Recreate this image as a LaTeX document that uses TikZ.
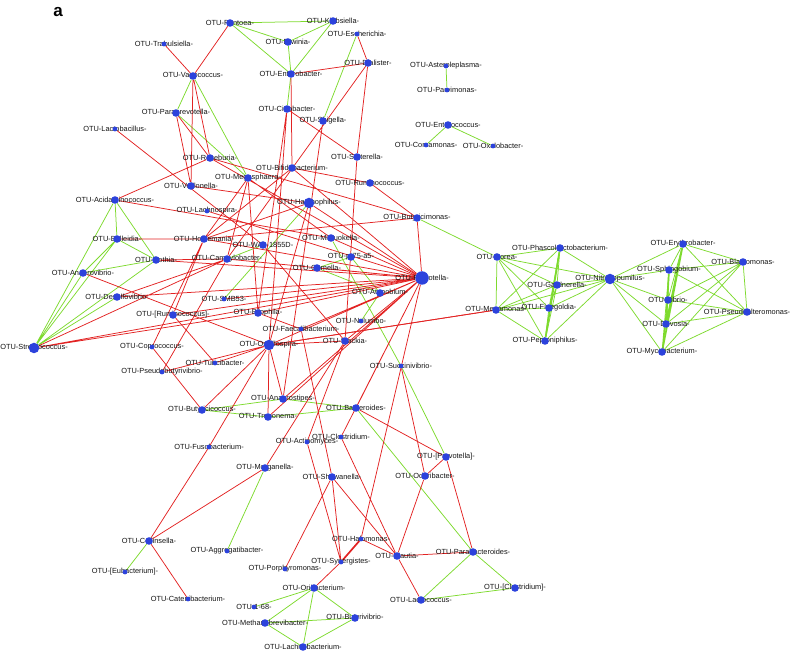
\documentclass[tikz,border=0pt]{standalone}
\usepackage{fontspec}
\setmainfont{Liberation Sans}
\definecolor{negred}{RGB}{226,34,34}
\definecolor{posgreen}{RGB}{126,218,46}
\definecolor{otublue}{RGB}{44,66,220}
\pgfdeclarelayer{edges}
\pgfsetlayers{edges,main}
\newcommand{\otu}[5][mid]{%
 \node[lbl] (#2-t) at (#3,#4) {OTU-#5-};
 \node[dot,#1] (#2) at (#3,#4) {};}

\begin{document}
\begin{tikzpicture}[x=1pt,y=-1pt,
 dot/.style={circle,fill=otublue,inner sep=0pt},
 sml/.style={minimum size=4.8pt},
 mid/.style={minimum size=7.6pt},
 big/.style={minimum size=10.5pt},
 huge/.style={minimum size=13.5pt},
 lbl/.style={font=\fontsize{7.4}{8}\selectfont,text=black!92,inner sep=0pt},
 negedge/.style={draw=negred,line width=0.75pt},
 posedge/.style={draw=posgreen,line width=0.75pt},
 heavy/.style={line width=1.7pt}]
\useasboundingbox (0,0) rectangle (793,652);
\node[font=\bfseries\fontsize{17}{17}\selectfont] (tag) at (58,12) {a};
% left and centre
\otu{pant}{230}{23}{Pantoea}
\otu[sml]{trab}{164}{44}{Trabulsiella}
\otu{vago}{193}{76}{Vagococcus}
\otu{kleb}{333}{21}{Klebsiella}
\otu{erw}{288}{42}{Erwinia}
\otu[sml]{esch}{357}{34}{Escherichia}
\otu{entb}{291}{74}{Enterobacter}
\otu{dial}{368}{63}{Dialister}
\otu[sml]{aste}{446}{66}{Asteroleplasma}
\otu[sml]{parv}{447}{90}{Parvimonas}
\otu{citr}{287}{109}{Citrobacter}
\otu{shig}{323}{121}{Shigella}
\otu{entc}{448}{125}{Enterococcus}
\otu[sml]{coma}{426}{145}{Comamonas}
\otu[sml]{oxal}{493}{146}{Oxalobacter}
\otu{papr}{176}{113}{Paraprevotella}
\otu[sml]{lact}{115}{129}{Lactobacillus}
\otu{sutt}{357}{157}{Sutterella}
\otu{rose}{210}{158}{Roseburia}
\otu{bifi}{292}{168}{Bifidobacterium}
\otu{mega}{248}{178}{Megasphaera}
\otu{rumi}{370}{183}{Ruminococcus}
\otu{veil}{191}{186}{Veillonella}
\otu{acid}{115}{200}{Acidaminococcus}
\otu[big]{haem}{309}{203}{Haemophilus}
\otu[sml]{lach}{207}{211}{Lachnospira}
\otu{buty}{417}{218}{Butyricimonas}
\otu{mits}{331}{238}{Mitsuokella}
\otu{bull}{117}{239}{Bulleidia}
\otu{hold}{204}{239}{Holdemania}
\otu{wal}{263}{245}{WAL-1855D}
\otu{p75}{351}{257}{p-75-a5}
\otu{roth}{156}{260}{Rothia}
\otu{camp}{227}{259}{Campylobacter}
\otu{geme}{317}{268}{Gemella}
\otu{anvi}{83}{273}{Anaerovibrio}
\otu[huge]{prev}{422}{278}{Prevotella}
\otu{atop}{380}{293}{Atopobium}
\otu{desu}{117}{297}{Desulfovibrio}
\otu[sml]{smb}{224}{299}{SMB53}
\otu{bilo}{258}{313}{Bilophila}
\otu{rrum}{173}{315}{[Ruminococcus]}
\otu[sml]{nelu}{361}{321}{Nelumbo}
\otu[sml]{faec}{301}{329}{Faecalibacterium}
\otu{slac}{345}{341}{Slackia}
\otu[big]{osci}{269}{345}{Oscillospira}
\otu[big]{strep}{34}{348}{Streptococcus}
\otu[sml]{copr}{152}{347}{Coprococcus}
\otu[sml]{turi}{215}{363}{Turicibacter}
\otu[sml]{pseb}{162}{372}{Pseudobutyrivibrio}
\otu[sml]{succ}{401}{366}{Succinivibrio}
\otu{anst}{283}{399}{Anaerostipes}
\otu{bact}{356}{408}{Bacteroides}
\otu{btcc}{202}{410}{Butyricicoccus}
\otu{trep}{268}{417}{Treponema}
\otu[sml]{clos}{341}{437}{Clostridium}
\otu[sml]{actn}{307}{442}{Actinomyces}
\otu[sml]{fuso}{209}{447}{Fusobacterium}
\otu{cprv}{446}{457}{[Prevotella]}
\otu{morg}{265}{468}{Morganella}
\otu{odor}{425}{476}{Odoribacter}
\otu{shew}{332}{477}{Shewanella}
\otu[sml]{halo}{361}{539}{Halomonas}
\otu{coll}{149}{541}{Collinsella}
\otu[sml]{aggr}{227}{551}{Aggregatibacter}
\otu{para}{473}{552}{Parabacteroides}
\otu{blau}{397}{556}{Blautia}
\otu[sml]{syne}{341}{562}{Synergistes}
\otu[sml]{eubc}{125}{572}{[Eubacterium]}
\otu[sml]{porp}{285}{569}{Porphyromonas}
\otu{orib}{314}{588}{Oribacterium}
\otu{cclo}{515}{588}{[Clostridium]}
\otu[sml]{catn}{188}{599}{Catenibacterium}
\otu{lacc}{421}{600}{Lactococcus}
\otu[sml]{o168}{254}{607}{1-68}
\otu{meth}{265}{623}{Methanobrevibacter}
\otu{butv}{355}{618}{Butyrivibrio}
\otu{lchb}{303}{647}{Lachnobacterium}
% right clusters
\otu{dore}{497}{257}{Dorea}
\otu{megm}{496}{310}{Megamonas}
\otu{phas}{560}{248}{Phascolarctobacterium}
\otu{gard}{557}{285}{Gardnerella}
\otu[big]{nitr}{610}{279}{Nitrosopumilus}
\otu{fine}{549}{308}{Finegoldia}
\otu{pept}{545}{341}{Peptoniphilus}
\otu{eryt}{683}{244}{Erythrobacter}
\otu{blas}{743}{262}{Blastomonas}
\otu{sphi}{669}{270}{Sphingobium}
\otu{vibr}{668}{300}{Vibrio}
\otu{pseu}{747}{312}{Pseudoalteromonas}
\otu{devo}{666}{324}{Devosia}
\otu{myco}{662}{352}{Mycobacterium}

\begin{pgfonlayer}{edges}
\draw[posedge] (pant) -- (kleb) (pant) -- (erw) (pant) -- (entb) (kleb) -- (erw)
 (kleb) -- (entb) (erw) -- (entb) (entb) -- (citr) (esch) -- (shig)
 (aste) -- (parv) (entc) -- (coma) (entc) -- (oxal);
\draw[posedge] (vago) -- (papr) (vago) -- (mega) (papr) -- (mega);
\draw[posedge] (acid) -- (bull) (acid) -- (roth) (acid) -- (strep) (bull) -- (strep)
 (roth) -- (strep) (anvi) -- (strep) (desu) -- (strep) (bull) -- (roth)
 (bull) -- (anvi) (anvi) -- (roth);
\draw[posedge] (haem) -- (smb) (camp) -- (wal) (geme) -- (p75) (geme) -- (atop)
 (p75) -- (atop) (atop) -- (nelu) (mits) -- (succ) (succ) -- (cprv)
 (buty) -- (dore);
\draw[posedge] (btcc) -- (anst) (btcc) -- (trep) (anst) -- (bact) (trep) -- (bact)
 (bact) -- (para) (morg) -- (aggr) (coll) -- (eubc);
\draw[posedge] (para) -- (lacc) (para) -- (cclo) (lacc) -- (cclo);
\draw[posedge] (orib) -- (o168) (orib) -- (meth) (orib) -- (lchb) (orib) -- (butv)
 (meth) -- (butv) (meth) -- (lchb) (lchb) -- (butv);
\draw[posedge] (dore) -- (phas) (dore) -- (gard) (dore) -- (nitr) (dore) -- (fine)
 (dore) -- (pept) (dore) -- (megm) (phas) -- (gard) (phas) -- (nitr)
 (phas) -- (fine) (phas) -- (megm) (gard) -- (nitr) (gard) -- (fine)
 (gard) -- (pept) (gard) -- (megm) (nitr) -- (fine) (nitr) -- (pept)
 (nitr) -- (megm) (fine) -- (pept) (fine) -- (megm) (pept) -- (megm);
\draw[posedge,heavy] (phas) -- (pept);
\draw[posedge] (nitr) -- (eryt) (nitr) -- (sphi) (nitr) -- (vibr) (nitr) -- (devo)
 (nitr) -- (myco);
\draw[posedge] (eryt) -- (blas) (eryt) -- (sphi) (eryt) -- (vibr) (eryt) -- (pseu)
 (blas) -- (sphi) (blas) -- (vibr) (blas) -- (pseu) (blas) -- (devo)
 (blas) -- (myco) (sphi) -- (vibr) (sphi) -- (pseu) (sphi) -- (myco)
 (vibr) -- (pseu) (vibr) -- (devo) (vibr) -- (myco) (pseu) -- (devo)
 (pseu) -- (myco) (devo) -- (myco);
\draw[posedge,heavy] (eryt) -- (devo) (sphi) -- (devo) (eryt) -- (myco);
\draw[negedge] (esch) -- (dial) (entb) -- (dial) (entb) -- (bifi) (pant) -- (vago)
 (trab) -- (vago) (vago) -- (rose) (vago) -- (veil) (papr) -- (rose)
 (papr) -- (veil) (lact) -- (wal) (acid) -- (rose) (acid) -- (mits);
\draw[negedge] (rose) -- (prev) (rose) -- (buty) (mega) -- (hold) (mega) -- (bilo)
 (mega) -- (camp) (mega) -- (mits) (citr) -- (osci) (citr) -- (bilo)
 (citr) -- (sutt) (dial) -- (camp) (shig) -- (anst) (dial) -- (sutt)
 (sutt) -- (slac) (bifi) -- (rumi) (rumi) -- (buty) (bifi) -- (hold)
 (bifi) -- (prev);
\draw[negedge] (buty) -- (prev) (haem) -- (prev) (haem) -- (hold) (haem) -- (osci)
 (veil) -- (haem) (bull) -- (hold) (roth) -- (camp) (roth) -- (prev)
 (strep) -- (camp) (strep) -- (bilo) (strep) -- (prev) (desu) -- (prev)
 (desu) -- (camp) (anvi) -- (osci);
\draw[negedge] (hold) -- (rrum) (hold) -- (copr) (hold) -- (prev) (hold) -- (buty)
 (camp) -- (pseb) (camp) -- (prev) (mits) -- (prev) (geme) -- (prev)
 (rrum) -- (prev) (rrum) -- (turi) (smb) -- (prev) (wal) -- (slac)
 (lach) -- (prev);
\draw[negedge] (copr) -- (btcc) (osci) -- (btcc) (osci) -- (prev) (osci) -- (anst)
 (osci) -- (trep) (osci) -- (slac) (osci) -- (megm) (turi) -- (osci)
 (pseb) -- (osci) (faec) -- (prev) (faec) -- (bilo) (bilo) -- (prev)
 (slac) -- (prev);
\draw[negedge] (prev) -- (anst) (prev) -- (trep) (prev) -- (bact) (prev) -- (clos)
 (prev) -- (halo) (faec) -- (shew) (actn) -- (slac) (actn) -- (syne)
 (clos) -- (blau) (shew) -- (blau) (shew) -- (syne) (shew) -- (porp)
 (halo) -- (blau);
\draw[negedge,heavy] (halo) -- (syne);
\draw[negedge] (coll) -- (fuso) (fuso) -- (osci) (coll) -- (morg) (coll) -- (catn)
 (morg) -- (slac) (bact) -- (cprv) (odor) -- (cprv) (succ) -- (odor)
 (cprv) -- (para) (odor) -- (blau) (para) -- (blau) (blau) -- (lacc)
 (orib) -- (syne) (megm) -- (osci);
\end{pgfonlayer}
\end{tikzpicture}
\end{document}
